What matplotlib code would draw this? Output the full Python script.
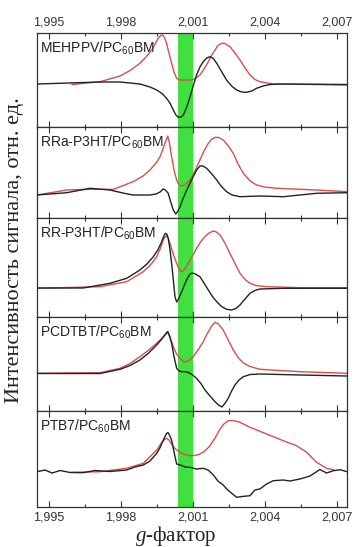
import matplotlib
matplotlib.use("Agg")
import matplotlib.pyplot as plt
from matplotlib.ticker import FixedLocator, FixedFormatter, MultipleLocator

plt.rcParams['font.family'] = ['Liberation Sans', 'DejaVu Sans']
plt.rcParams['mathtext.default'] = 'regular'
plt.rcParams['mathtext.fontset'] = 'custom'
plt.rcParams['mathtext.it'] = 'Liberation Serif:italic'
plt.rcParams['mathtext.rm'] = 'Liberation Sans'

# ---------------- data (g-factor, signal in arbitrary units) ----------------
labels = ['MEHPPV/PC$_{60}$BM', 'RRa-P3HT/PC$_{60}$BM', 'RR-P3HT/PC$_{60}$BM',
          'PCDTBT/PC$_{60}$BM', 'PTB7/PC$_{60}$BM']

tick_values = [1.995, 1.998, 2.001, 2.004, 2.007]
tick_labels = ['1,995', '1,998', '2,001', '2,004', '2,007']
band = (2.00036, 2.00101)
xlim = (1.99450, 2.00742)

# panel 1 MEHPPV
p1_black_x = [1.99450, 1.99713, 1.99796, 1.99879, 1.99921, 1.99949, 1.99971, 1.99990,
              2.00004, 2.00018, 2.00029, 2.00039, 2.00050, 2.00060, 2.00074, 2.00088,
              2.00101, 2.00115, 2.00129, 2.00143, 2.00157, 2.00171, 2.00185, 2.00199,
              2.00213, 2.00240, 2.00261, 2.00282, 2.00303, 2.00324, 2.00345, 2.00365,
              2.00392, 2.00421, 2.00463, 2.00742]
p1_black_y = [0, 2, 2, 0, -3, -6, -9.5, -14.3, -19, -26, -31, -33.3, -33, -31, -23,
              -12.7, -2, 9, 17, 22.3, 26, 27.3, 25.5, 20.7, 15, 4, -2, -6, -8, -8.3,
              -7, -4.3, -2, -0.5, 0, -0.5]
p1_red_x = [1.99596, 1.99713, 1.99796, 1.99838, 1.99879, 1.99904, 1.99928, 1.99942,
            1.99955, 1.99965, 1.99974, 1.99982, 1.99990, 2.00000, 2.00011, 2.00021,
            2.00032, 2.00042, 2.00053, 2.00095, 2.00113, 2.00129, 2.00146, 2.00164,
            2.00177, 2.00192, 2.00204, 2.00220, 2.00233, 2.00254, 2.00275, 2.00296,
            2.00317, 2.00338, 2.00358, 2.00379, 2.00435, 2.00546, 2.00742]
p1_red_y = [-0.5, 2.3, 8, 13.5, 20.7, 27, 34, 40, 45.7, 48.5, 49, 46, 40.7, 31, 20.7,
            12, 5.7, 4.2, 4, 4, 6, 9, 15, 22.3, 28.5, 34, 38.5, 40.7, 40.5, 37.3, 31,
            24, 16, 9, 4.5, 2.3, 0, -0.3, -1]

# panel 2 RRa-P3HT
p2_black_x = [1.99450, 1.99574, 1.99671, 1.99754, 1.99817, 1.99851, 1.99921, 1.99946,
              1.99963, 1.99976, 1.99985, 1.99997, 2.00006, 2.00018, 2.00028, 2.00035,
              2.00046, 2.00058, 2.00074, 2.00088, 2.00101, 2.00115, 2.00129, 2.00142,
              2.00157, 2.00175, 2.00199, 2.00217, 2.00240, 2.00263, 2.00296, 2.00379,
              2.00476, 2.00615, 2.00742]
p2_black_y = [0, 2.3, 6.7, 5, 1.5, 0, 0, 1, 3, 6, 5, 1.7, -6, -15, -19, -17, -11.7,
              -4, 5, 12, 18.3, 25, 29, 29, 26.7, 22, 15, 9, 3.3, 0, -1.7, -1, -1.7,
              1.7, 2.3]
p2_red_x = [1.99450, 1.99574, 1.99671, 1.99768, 1.99851, 1.99892, 1.99921, 1.99946,
            1.99963, 1.99975, 1.99983, 1.99995, 2.00002, 2.00011, 2.00021, 2.00032,
            2.00042, 2.00053, 2.00067, 2.00088, 2.00108, 2.00129, 2.00146, 2.00164,
            2.00177, 2.00192, 2.00208, 2.00226, 2.00246, 2.00268, 2.00288, 2.00310,
            2.00338, 2.00365, 2.00400, 2.00449, 2.00615, 2.00742]
p2_red_y = [0, 5, 5.7, 5.7, 13.3, 19, 25, 32, 38.3, 46, 51.7, 59, 52, 38.3, 25, 15,
            10, 9, 10.5, 15, 24, 35, 44, 51.7, 55.5, 57.7, 57.5, 55, 49.5, 41.7, 31,
            21.7, 14, 10, 8, 6.7, 5, 3.3]

# panel 3 RR-P3HT
p3_black_x = [1.99450, 1.99642, 1.99754, 1.99824, 1.99879, 1.99908, 1.99935, 1.99952,
              1.99967, 1.99977, 1.99985, 1.99992, 1.99997, 2.00004, 2.00011, 2.00019,
              2.00025, 2.00032, 2.00040, 2.00053, 2.00067, 2.00080, 2.00090, 2.00098,
              2.00110, 2.00129, 2.00146, 2.00164, 2.00181, 2.00199, 2.00219, 2.00240,
              2.00261, 2.00279, 2.00296, 2.00317, 2.00338, 2.00358, 2.00379, 2.00476,
              2.00615, 2.00742]
p3_black_y = [0, 0, 4.7, 9.7, 18, 24, 31.3, 37.5, 44.7, 51, 54.7, 53.5, 49.7, 39,
              24.7, 6, -8.7, -14, -11, -3.7, 4.5, 11.3, 14.3, 15, 14, 11.3, 5, -2,
              -8.5, -13.7, -18.5, -21.3, -22, -20.5, -17, -11, -5.3, -2.5, -1, -0.3,
              -0.3, -0.3]
p3_red_x = [1.99450, 1.99713, 1.99824, 1.99893, 1.99921, 1.99949, 1.99965, 1.99976,
            1.99983, 1.99990, 1.99997, 2.00004, 2.00017, 2.00032, 2.00042, 2.00053,
            2.00065, 2.00080, 2.00098, 2.00115, 2.00133, 2.00150, 2.00167, 2.00185,
            2.00198, 2.00213, 2.00233, 2.00254, 2.00275, 2.00296, 2.00317, 2.00338,
            2.00363, 2.00407, 2.00546, 2.00742]
p3_red_y = [-0.3, 1.3, 6.3, 16.3, 22.5, 31.3, 40, 48, 51, 52, 49.5, 44.7, 34.5, 24.7,
            19, 16, 18.5, 24.7, 32, 39.7, 46.5, 51.3, 55, 57, 56, 53, 45, 34.7, 24.5,
            14.7, 8.5, 4.7, 2.5, 1.3, 0.3, 0.3]

# panel 4 PCDTBT
p4_black_x = [1.99450, 1.99713, 1.99796, 1.99838, 1.99879, 1.99913, 1.99949, 1.99967,
              1.99983, 1.99990, 1.99995, 2.00002, 2.00011, 2.00021, 2.00032, 2.00042,
              2.00053, 2.00067, 2.00080, 2.00096, 2.00115, 2.00133, 2.00150, 2.00171,
              2.00192, 2.00206, 2.00221, 2.00233, 2.00247, 2.00260, 2.00275, 2.00292,
              2.00310, 2.00338, 2.00379, 2.00546, 2.00742]
p4_black_y = [0, 0, 4.2, 8, 13.5, 20, 28.5, 33.5, 38.5, 41, 42, 38, 30.2, 17, 5.2,
              2.5, 1.8, 1.8, 1.2, -1, -4.8, -10, -16.5, -22.5, -28.2, -31.5, -33.5,
              -30, -24.8, -18, -11.5, -6.5, -3.2, -1, -0.5, -1.5, -2.5]
p4_red_x = [1.99450, 1.99713, 1.99796, 1.99838, 1.99879, 1.99913, 1.99949, 1.99967,
            1.99983, 1.99990, 1.99997, 2.00006, 2.00018, 2.00031, 2.00046, 2.00063,
            2.00081, 2.00101, 2.00121, 2.00143, 2.00160, 2.00178, 2.00192, 2.00206,
            2.00226, 2.00246, 2.00268, 2.00288, 2.00310, 2.00338, 2.00379, 2.00546,
            2.00742]
p4_red_y = [0.2, 0.8, 5.2, 10, 16.8, 23, 30.2, 34.5, 38.5, 40, 40.2, 35, 26.8, 20,
            15.2, 11.5, 12.5, 16.8, 23.5, 31.8, 40, 47.5, 51.2, 49.5, 43.5, 34, 23.5,
            16, 10.5, 7, 4.2, 1.8, 0.2]

# panel 5 PTB7
p5_black_x = [1.99450, 1.99483, 1.99513, 1.99546, 1.99588, 1.99642, 1.99692, 1.99754,
              1.99824, 1.99858, 1.99893, 1.99921, 1.99949, 1.99963, 1.99971, 1.99983,
              1.99990, 1.99996, 2.00003, 2.00011, 2.00021, 2.00032, 2.00053, 2.00067,
              2.00088, 2.00113, 2.00143, 2.00163, 2.00185, 2.00204, 2.00226, 2.00245,
              2.00282, 2.00304, 2.00338, 2.00358, 2.00379, 2.00407, 2.00435, 2.00476,
              2.00504, 2.00546, 2.00588, 2.00629, 2.00657, 2.00685, 2.00713, 2.00742]
p5_black_y = [-0.2, 1.5, -1.5, 1, -1, -1.2, 1, 0, 1.5, 4.5, 6.5, 10.5, 18.2, 24,
              28.5, 34.8, 38, 39, 36, 31.5, 19.5, 7.5, 6, 4.5, 4.2, 2.5, 3.2, 1.5,
              -3.5, -9.5, -13.5, -18.5, -25.8, -25, -24.2, -18.5, -17.5, -12.5, -9.2,
              -8.5, -9.5, -7.5, -4.5, 2, -1.5, 0.8, 1.8, -0.2]
p5_red_x = [1.99594, 1.99713, 1.99824, 1.99893, 1.99949, 1.99963, 1.99971, 1.99981,
            1.99990, 2.00000, 2.00011, 2.00025, 2.00046, 2.00067, 2.00088, 2.00108,
            2.00129, 2.00150, 2.00171, 2.00192, 2.00213, 2.00229, 2.00247, 2.00267,
            2.00296, 2.00338, 2.00407, 2.00476, 2.00532, 2.00574, 2.00615, 2.00657,
            2.00685]
p5_red_y = [-0.8, -0.2, 3.2, 8.2, 21.5, 26.5, 29.5, 32, 33.2, 31.5, 27.5, 23, 19.2,
            16.8, 15.8, 16, 17.5, 20.5, 25.8, 33.5, 42.5, 47.5, 50.8, 51, 49.2, 44.2,
            37.5, 30.8, 25.8, 19.2, 9.2, 3.2, 1.8]

panels = [
    (p1_black_x, p1_black_y, p1_red_x, p1_red_y, (-43, 51)),
    (p2_black_x, p2_black_y, p2_red_x, p2_red_y, (-23, 68)),
    (p3_black_x, p3_black_y, p3_red_x, p3_red_y, (-29, 70)),
    (p4_black_x, p4_black_y, p4_red_x, p4_red_y, (-37.5, 56.5)),
    (p5_black_x, p5_black_y, p5_red_x, p5_red_y, (-35.5, 60.5)),
]

# ---------------- figure ----------------
W, H = 355, 547
fig = plt.figure(figsize=(W / 100, H / 100), dpi=100)
left, right = 37 / W, 347 / W
edges = [33, 127, 218, 317, 411, 507]

black_c = '#222222'
red_c = '#d45050'
green_c = '#3fe03f'
frame_c = '#333333'

for i, (bx, by, rx, ry, yl) in enumerate(panels):
    top_px, bot_px = edges[i], edges[i + 1]
    ax = fig.add_axes([left, 1 - bot_px / H, right - left, (bot_px - top_px) / H])
    ax.axvspan(band[0], band[1], color=green_c, lw=0, zorder=0)
    ax.plot(rx, ry, color=red_c, lw=1.0, zorder=2, solid_joinstyle='round')
    ax.plot(bx, by, color=black_c, lw=1.0, zorder=3, solid_joinstyle='round')
    ax.set_xlim(*xlim)
    ax.set_ylim(*yl)
    ax.set_yticks([])
    ax.xaxis.set_major_locator(FixedLocator(tick_values))
    ax.xaxis.set_minor_locator(MultipleLocator(0.0015))
    ax.tick_params(axis='x', which='both', direction='in', top=True, bottom=True,
                   color=frame_c, labelsize=9, labelcolor='#333333', pad=3.5)
    ax.tick_params(axis='x', which='major', length=4, width=0.8)
    ax.tick_params(axis='x', which='minor', length=2.5, width=0.8)
    ax.xaxis.set_major_formatter(FixedFormatter(tick_labels))
    ax.tick_params(axis='x', labelbottom=(i == 4), labeltop=(i == 0))
    for s in ax.spines.values():
        s.set_color(frame_c)
        s.set_linewidth(0.9)
    ax.annotate(labels[i], xy=(0, 1), xycoords='axes fraction',
                xytext=(2.5, -7), textcoords='offset pixels',
                ha='left', va='top', fontsize=10, color='#222222')

serif = ['Liberation Serif', 'DejaVu Serif']
fig.text(15 / W, 1 - 250 / H, 'Интенсивность сигнала, отн. ед.', rotation=90,
         ha='center', va='center', fontsize=16, family=serif, color='#222222')
fig.text(176 / W, 1 - 536 / H, '$\\it{g}$-фактор', ha='center', va='center',
         fontsize=15, family=serif, color='#222222')

fig.savefig('out.png', dpi=100)
